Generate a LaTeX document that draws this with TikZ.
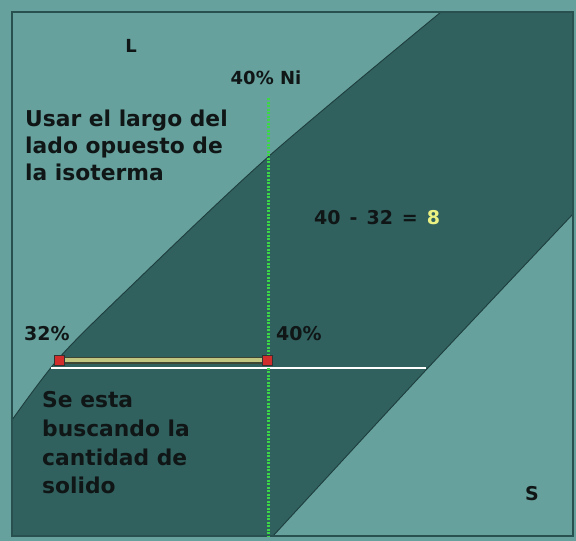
\documentclass[tikz,border=0pt]{standalone}
\usepackage{fontspec}
\setmainfont{DejaVu Sans}
\begin{document}
\begin{tikzpicture}[x=1pt,y=-1pt,
  lbl/.style={inner sep=0pt, text=txt, font=\bfseries\fontsize{21.8}{27}\selectfont},
  pct/.style={inner sep=0pt, text=txt, font=\bfseries\fontsize{18}{22}\selectfont},
  bound/.style={draw=edge, line width=0.9pt},
  redsq/.style={draw=black!80, fill=redpt, line width=0.9pt, minimum size=10pt, inner sep=0pt}]
\definecolor{lightteal}{RGB}{102,161,157}
\definecolor{darkteal}{RGB}{48,97,95}
\definecolor{edge}{RGB}{30,62,61}
\definecolor{frame}{RGB}{40,80,78}
\definecolor{txt}{RGB}{16,22,22}
\definecolor{tiefill}{RGB}{192,198,128}
\definecolor{tieedge}{RGB}{60,70,50}
\definecolor{redpt}{RGB}{210,45,45}
\definecolor{grn}{RGB}{60,215,70}
\definecolor{eight}{RGB}{236,242,130}
\useasboundingbox (0,0) rectangle (576,541);
\fill[lightteal] (0,0) rectangle (576,541);
% two-phase region
\fill[darkteal] plot[smooth, tension=0.5] coordinates {(12,420) (59,358) (127,290) (268,157) (441,12)}
  -- (573,12) -- (573,214)
  -- plot[smooth, tension=0.4] coordinates {(573,214) (426,370) (273,536)}
  -- (12,536) -- cycle;
\draw[bound] plot[smooth, tension=0.5] coordinates {(12,420) (59,358) (127,290) (268,157) (441,12)};
\draw[bound] plot[smooth, tension=0.4] coordinates {(573,214) (426,370) (273,536)};
% frame
\draw[frame, line width=2pt] (12,12) rectangle (573,536);
% isotherm (white) line
\coordinate (wl) at (51,368);
\coordinate (wr) at (426,368);
\draw[white, line width=1.5pt] (wl) -- (wr);
% green composition line
\coordinate (gt) at (268,98);
\coordinate (gb) at (268,536);
\draw[grn, line width=3pt, dash pattern=on 2pt off 1.5pt] (gt) -- (gb);
% tie line
\coordinate (t1) at (59,360);
\coordinate (t2) at (267,360);
\draw[tieedge, line width=7pt] (t1) -- (t2);
\draw[tiefill, line width=4pt] (t1) -- (t2);
\node[redsq] (p32) at (t1) {};
\node[redsq] (p40) at (t2) {};
% labels
\node[pct, font=\bfseries\fontsize{18}{22}\selectfont, anchor=base] (L) at (131,52) {L};
\node[pct, anchor=base] (ni) at (266,84) {40\% Ni};
\node[lbl, anchor=base west] (u1) at (25,126) {Usar el largo del};
\node[lbl, anchor=base west] (u2) at (25,153) {lado opuesto de};
\node[lbl, anchor=base west] (u3) at (25,180) {la isoterma};
\node[pct, font=\bfseries\fontsize{19}{22}\selectfont, anchor=base west] (eq) at (314,224) {40\hspace{9pt}-\hspace{9pt}32\hspace{9pt}=\hspace{9pt}\textcolor{eight}{8}};
\node[pct, font=\bfseries\fontsize{19}{22}\selectfont, anchor=base west] (l32) at (24,340) {32\%};
\node[pct, font=\bfseries\fontsize{19}{22}\selectfont, anchor=base west] (l40) at (276,340) {40\%};
\node[lbl, anchor=base west] (s1) at (42,407) {Se esta};
\node[lbl, anchor=base west] (s2) at (42,436) {buscando la};
\node[lbl, anchor=base west] (s3) at (42,465) {cantidad de};
\node[lbl, anchor=base west] (s4) at (42,493) {solido};
\node[pct, font=\bfseries\fontsize{19}{22}\selectfont, anchor=base] (S) at (532,500) {S};
\end{tikzpicture}
\end{document}
